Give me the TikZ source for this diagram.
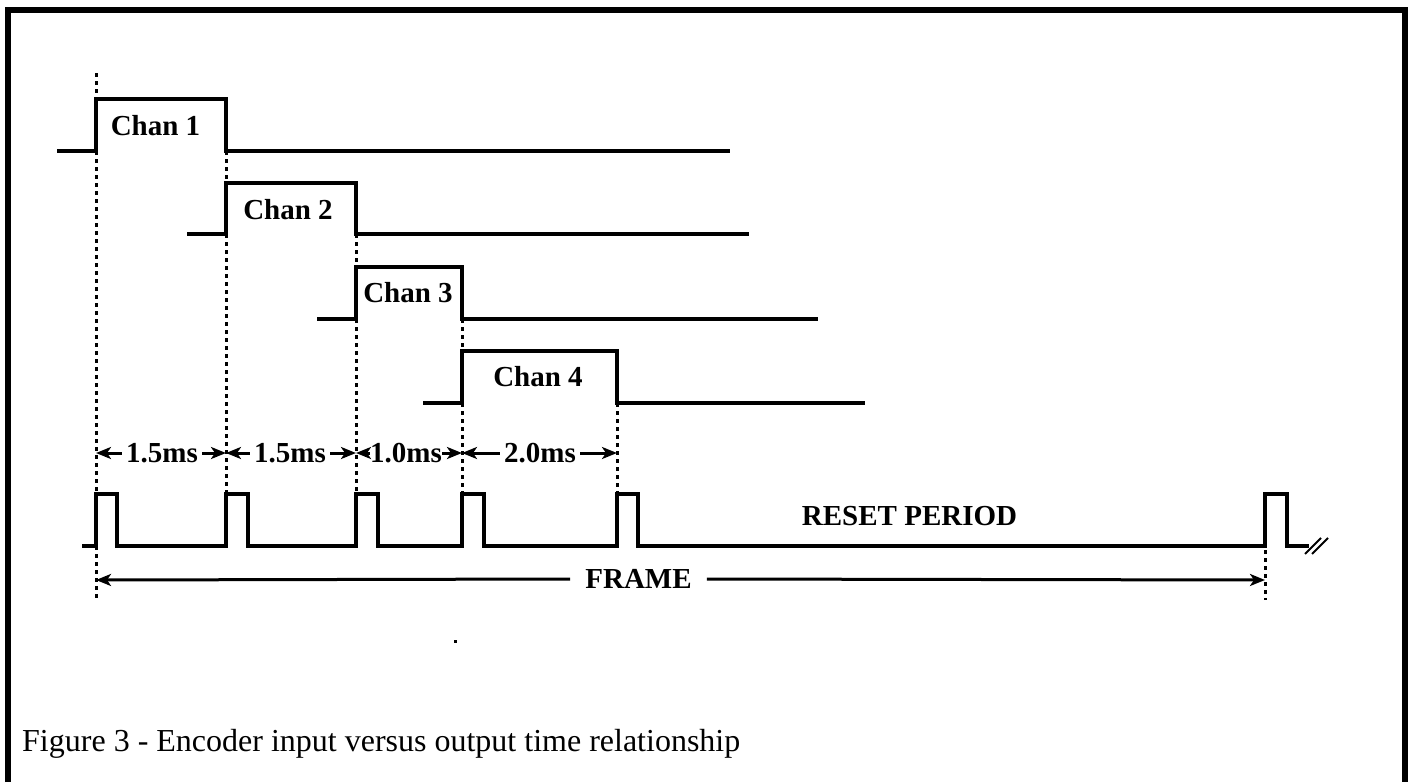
\documentclass[tikz,border=0pt]{standalone}
\usepackage{fontspec}
\setmainfont{Liberation Serif}
\usetikzlibrary{arrows.meta}
\begin{document}
\begin{tikzpicture}[x=1pt,y=-1pt,
 wave/.style={line width=3.2pt, line join=miter, line cap=butt},
 guide/.style={line width=3pt, dash pattern=on 4pt off 4pt},
 lbl/.style={font=\fontsize{29}{29}\selectfont\bfseries, inner sep=0pt},
 dimarrow/.style={line width=3pt, -{Stealth[length=15pt,width=12pt,inset=4pt]}},
 slash/.style={line width=2pt},
]
\useasboundingbox (0,0) rectangle (1414,782);
% outer frame (open at the bottom)
\draw[line width=6pt] (8,782) -- (8,10) -- (1405,10) -- (1405,782);

% channel waveforms
\draw[wave] (57,151) -- (96,151) -- (96,99) -- (226,99) -- (226,151) -- (730,151);
\draw[wave] (187,234) -- (226,234) -- (226,183) -- (356,183) -- (356,234) -- (749,234);
\draw[wave] (317,319) -- (356,319) -- (356,267) -- (462,267) -- (462,319) -- (818,319);
\draw[wave] (423,403) -- (462,403) -- (462,351) -- (617,351) -- (617,403) -- (865,403);

\node[lbl] (c1) at (155.5,126) {Chan 1};
\node[lbl] (c2) at (288,210) {Chan 2};
\node[lbl] (c3) at (408,293) {Chan 3};
\node[lbl] (c4) at (538,377) {Chan 4};

% dotted guides
\draw[guide] (96,73) -- (96,99);
\draw[guide] (96,151) -- (96,494);
\draw[guide] (96,546) -- (96,600);
\draw[guide] (226,151) -- (226,183);
\draw[guide] (226,234) -- (226,494);
\draw[guide] (356,234) -- (356,267);
\draw[guide] (356,319) -- (356,494);
\draw[guide] (462,319) -- (462,351);
\draw[guide] (462,403) -- (462,494);
\draw[guide] (617,403) -- (617,494);
\draw[guide] (1265,550) -- (1265,600);

% dimension arrows
\coordinate (a0) at (96,453);
\coordinate (a1) at (226,453);
\coordinate (a2) at (356,453);
\coordinate (a3) at (462,453);
\coordinate (a4) at (617,453);
\node[lbl, inner xsep=4pt] (d1) at (162,453) {1.5ms};
\node[lbl, inner xsep=4pt] (d2) at (290,453) {1.5ms};
\node[lbl, inner xsep=0pt] (d3) at (406,453) {1.0ms};
\node[lbl, inner xsep=4pt] (d4) at (540,453) {2.0ms};
\draw[dimarrow] (d1.west) -- (a0);
\draw[dimarrow] (d1.east) -- (a1);
\draw[dimarrow] (d2.west) -- (a1);
\draw[dimarrow] (d2.east) -- (a2);
\draw[dimarrow] (d3.west) -- (a2);
\draw[dimarrow] (d3.east) -- (a3);
\draw[dimarrow] (d4.west) -- (a3);
\draw[dimarrow] (d4.east) -- (a4);

% output pulse train
\draw[wave] (82,546) -- (96,546) -- (96,494) -- (117,494) -- (117,546)
  -- (226,546) -- (226,494) -- (248,494) -- (248,546)
  -- (356,546) -- (356,494) -- (378,494) -- (378,546)
  -- (462,546) -- (462,494) -- (484,494) -- (484,546)
  -- (617,546) -- (617,494) -- (638,494) -- (638,546)
  -- (1265,546) -- (1265,494) -- (1287,494) -- (1287,546) -- (1309,546);
\draw[slash] (1305,554) -- (1321,538);
\draw[slash] (1312,554) -- (1328,538);

\node[lbl] (reset) at (909.5,516) {RESET PERIOD};

% frame arrow
\coordinate (f0) at (96,580);
\coordinate (f1) at (1265,580);
\node[lbl, inner xsep=15pt] (frame) at (638.5,579) {FRAME};
\draw[dimarrow] (frame.west) -- (f0);
\draw[dimarrow] (frame.east) -- (f1);

% stray dot
\fill (453.5,639.5) rectangle (456.5,642.5);

% caption
\node[anchor=base west, font=\fontsize{32}{32}\selectfont, inner sep=0pt] (cap) at (22,751)
  {Figure 3 - Encoder input versus output time relationship};
\end{tikzpicture}
\end{document}
